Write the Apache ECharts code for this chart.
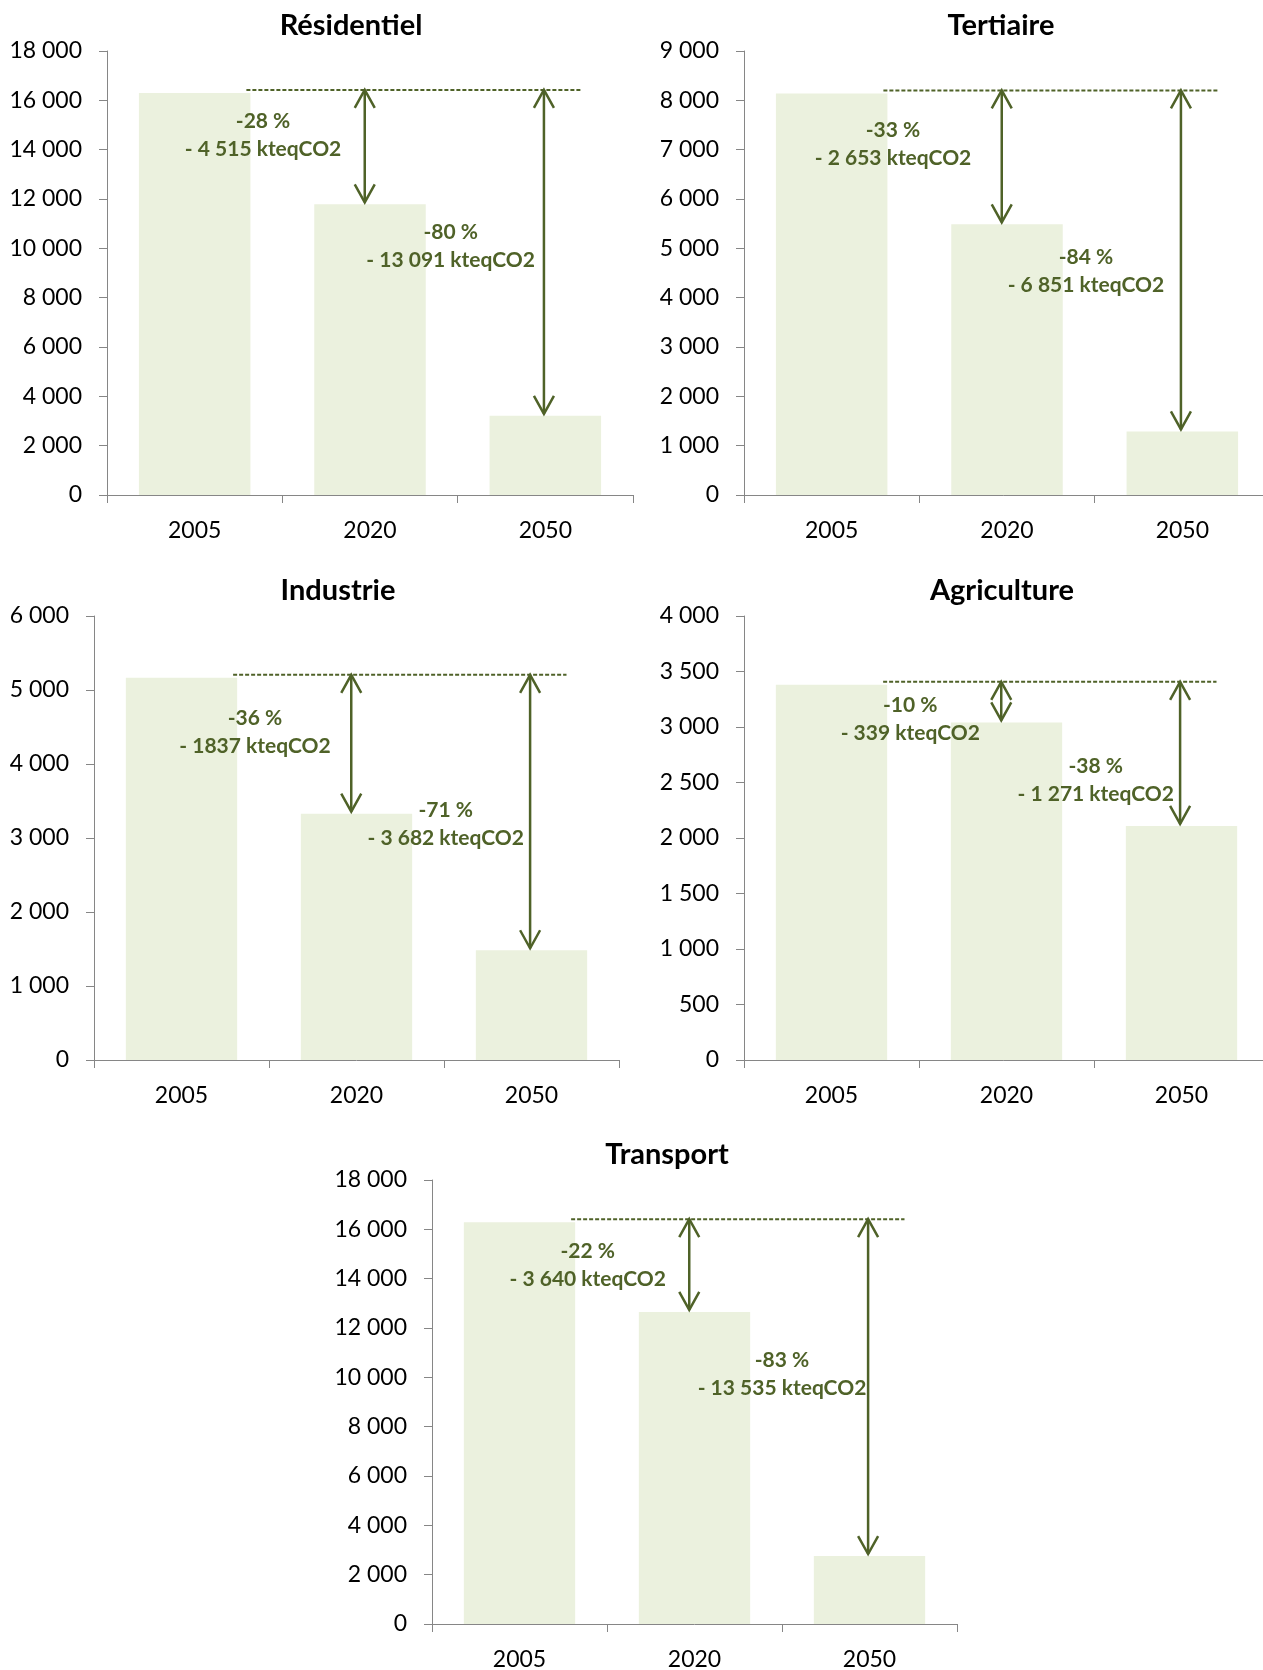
<!DOCTYPE html>
<html>
<head>
<meta charset="utf-8">
<title>Émissions de GES par secteur</title>
<script src="https://cdn.jsdelivr.net/npm/echarts@6/dist/echarts.min.js"></script>
<style>
  html, body { margin: 0; padding: 0; background: #ffffff; }
  #chart { width: 1263px; height: 1670px; }
</style>
</head>
<body>
<div id="chart"></div>
<script>
// ---- Data (kteqCO2) ----
const years = ['2005', '2020', '2050'];
const sectors = ['Résidentiel', 'Tertiaire', 'Industrie', 'Agriculture', 'Transport'];

const residentiel = [16300, 11785, 3209];
const tertiaire   = [8140, 5487, 1289];
const industrie   = [5165, 3328, 1483];
const agriculture = [3380, 3041, 2109];
const transport   = [16290, 12650, 2755];

const axisMax  = [18000, 9000, 6000, 4000, 18000];
const axisStep = [2000, 1000, 1000, 500, 2000];

const pctLabels = [
  ['-28 %', '-80 %'],
  ['-33 %', '-84 %'],
  ['-36 %', '-71 %'],
  ['-10 %', '-38 %'],
  ['-22 %', '-83 %']
];
const dropLabels = [
  ['- 4 515 kteqCO2', '- 13 091 kteqCO2'],
  ['- 2 653 kteqCO2', '- 6 851 kteqCO2'],
  ['- 1837 kteqCO2',  '- 3 682 kteqCO2'],
  ['- 339 kteqCO2',   '- 1 271 kteqCO2'],
  ['- 3 640 kteqCO2', '- 13 535 kteqCO2']
];

const sectorValues = [residentiel, tertiaire, industrie, agriculture, transport];

// ---- Layout ----
const panels = [
  { grid: { left: 107, top: 51,   width: 526, height: 444 }, title: [351, 26] },
  { grid: { left: 744, top: 51,   width: 526, height: 444 }, title: [1001, 26] },
  { grid: { left: 94,  top: 616,  width: 525, height: 444 }, title: [338, 591] },
  { grid: { left: 744, top: 616,  width: 525, height: 444 }, title: [1002, 591] },
  { grid: { left: 432, top: 1180, width: 525, height: 444 }, title: [667, 1155] }
];
// annotation text block centres: [category position, value]
const labelAnchors = [
  [[0.39, 14580], [1.46, 10100]],
  [[0.35, 7100],  [1.45, 4545]],
  [[0.42, 4425],  [1.51, 3180]],
  [[0.45, 3070],  [1.51, 2518]],
  [[0.39, 14550], [1.50, 10125]]
];
const arrowShift = [-0.03, -0.008];

const GREEN = '#4F6228';
const BAR = '#EBF1DE';
const AXIS = '#868686';
const FONT = 'Lato, "Open Sans", sans-serif';

const fmt = v => String(v).replace(/\B(?=(\d{3})+(?!\d))/g, ' ');

const grids = [], xAxes = [], yAxes = [], series = [], graphics = [];

panels.forEach((p, i) => {
  grids.push(Object.assign({ containLabel: false, outerBoundsMode: 'none' }, p.grid));
  xAxes.push({
    type: 'category', gridIndex: i, data: years,
    axisLine: { show: true, lineStyle: { color: AXIS, width: 1 } },
    axisTick: { show: true, length: 8, lineStyle: { color: AXIS, width: 1 } },
    axisLabel: { color: '#000', fontSize: 23, fontFamily: FONT, margin: 24 }
  });
  yAxes.push({
    type: 'value', gridIndex: i, min: 0, max: axisMax[i], interval: axisStep[i],
    axisLine: { show: true, lineStyle: { color: AXIS, width: 1 } },
    axisTick: { show: true, length: 8, lineStyle: { color: AXIS, width: 1 } },
    splitLine: { show: false },
    axisLabel: { color: '#000', fontSize: 23, fontFamily: FONT, margin: 25, formatter: fmt }
  });

  const vals = sectorValues[i];
  series.push({
    type: 'bar', xAxisIndex: i, yAxisIndex: i, data: vals,
    barWidth: '63.6%', silent: true,
    itemStyle: { color: BAR }
  });

  // reduction arrows, baseline and annotations
  const anchors = labelAnchors[i];
  series.push({
    type: 'custom', xAxisIndex: i, yAxisIndex: i, silent: true, clip: false, z: 5,
    data: [[1, vals[0], vals[1], 0], [2, vals[0], vals[2], 1]],
    renderItem: (params, api) => {
      const idx = api.value(0), base = api.value(1), target = api.value(2), k = api.value(3);
      const band = api.size([1, 0])[0];
      const pTop = api.coord([idx, base]);
      const pBot = api.coord([idx, target]);
      const x = pTop[0] + arrowShift[k] * band;
      const yTop = pTop[1] - 3;
      const yBot = pBot[1] - 2;
      const hw = 10, hh = 18;
      const stroke = { stroke: GREEN, lineWidth: 2.5, fill: null };
      const children = [
        { type: 'line', shape: { x1: x, y1: yTop, x2: x, y2: yBot }, style: stroke },
        { type: 'polyline', shape: { points: [[x - hw, yTop + hh], [x, yTop], [x + hw, yTop + hh]] }, style: stroke },
        { type: 'polyline', shape: { points: [[x - hw, yBot - hh], [x, yBot], [x + hw, yBot - hh]] }, style: stroke }
      ];
      if (k === 0) {
        const c0 = api.coord([0, base])[0];
        const c2 = api.coord([2, base])[0];
        children.unshift({
          type: 'line',
          shape: { x1: c0 + 0.295 * band, y1: yTop, x2: c2 + 0.2 * band, y2: yTop },
          style: { stroke: GREEN, lineWidth: 1.9, lineDash: [4, 2] }
        });
      }
      const a = anchors[k];
      const ai = Math.floor(a[0]);
      const ap = api.coord([ai, a[1]]);
      children.push({
        type: 'text',
        style: {
          text: pctLabels[i][k] + '\n' + dropLabels[i][k],
          x: ap[0] + (a[0] - ai) * band, y: ap[1],
          align: 'center', verticalAlign: 'middle',
          fill: GREEN, fontSize: 21, fontWeight: 'bold', fontFamily: FONT, lineHeight: 28
        }
      });
      return { type: 'group', children };
    }
  });

  graphics.push({
    type: 'text', x: p.title[0], y: p.title[1], silent: true,
    style: {
      text: sectors[i], align: 'center', verticalAlign: 'middle',
      fill: '#000', fontSize: 29, fontWeight: 'bold', fontFamily: FONT
    }
  });
});

const chart = echarts.init(document.getElementById('chart'), null, { renderer: 'canvas' });
chart.setOption({
  animation: false,
  backgroundColor: '#ffffff',
  grid: grids,
  xAxis: xAxes,
  yAxis: yAxes,
  series: series,
  graphic: graphics
});
</script>
</body>
</html>
